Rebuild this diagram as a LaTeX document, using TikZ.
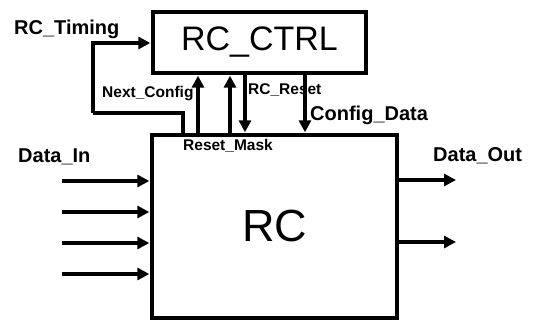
\documentclass[tikz,border=0pt]{standalone}
\usepackage{fontspec}
\setmainfont{Liberation Sans}
\usetikzlibrary{arrows.meta,positioning}
\tikzset{
  blk/.style   = {rectangle, draw=black, line width=3.4pt, inner sep=0pt},
  lbl/.style   = {inner sep=0pt, anchor=base west, font=\fontsize{20}{24}\selectfont\bfseries},
  slbl/.style  = {lbl, font=\fontsize{15.5}{18}\selectfont\bfseries},
  ar/.style    = {-{Triangle[length=12pt,width=12pt]}, draw=black, line width=3.4pt, shorten >=1pt},
  ln/.style    = {draw=black, line width=3.4pt}
}
\begin{document}
\begin{tikzpicture}[x=1pt, y=-1pt]
    \useasboundingbox (0,0) rectangle (540,320);
    % blocks
    \node[blk, minimum width=213pt, minimum height=61pt, font=\fontsize{34}{38}\selectfont]
      (ctrl) at (259.5,42.5) {RC\_CTRL};
    \node[blk, minimum width=245pt, minimum height=183pt, font=\fontsize{45}{50}\selectfont]
      (rc) at (274.5,226.5) {RC};
    % labels
    \node[lbl]  (timing) at (14,35)   {RC\_Timing};
    \node[slbl] (next)   at (102,98)  {Next\_Config};
    \node[slbl] (reset)  at (248,95)  {RC\_Reset};
    \node[lbl]  (cfg)    at (310,121) {Config\_Data};
    \node[slbl] (mask)   at (183,151) {Reset\_Mask};
    \node[lbl]  (din)    at (18,163)  {Data\_In};
    \node[lbl]  (dout)   at (433,162) {Data\_Out};
    % ports on the RC top
    \coordinate (p1) at (183,135);
    \coordinate (p2) at (198,135);
    \coordinate (p3) at (230,135);
    \coordinate (p4) at (245,73);
    \coordinate (p5) at (305,73);
    \coordinate (k1) at (93,113);
    % control signals
    \draw[ln] (p1) |- (k1);
    \draw[ar] (k1) |- (ctrl.west |- 0,43);
    \draw[ar] (p2) -- (p2 |- ctrl.south);
    \draw[ar] (p3) -- (p3 |- ctrl.south);
    \draw[ar] (p4) -- (p4 |- rc.north);
    \draw[ar] (p5) -- (p5 |- rc.north);
    % data inputs
    \coordinate (i1) at (62,181);
    \coordinate (i2) at (62,212);
    \coordinate (i3) at (62,243);
    \coordinate (i4) at (62,274);
    \draw[ar] (i1) -- (i1 -| rc.west);
    \draw[ar] (i2) -- (i2 -| rc.west);
    \draw[ar] (i3) -- (i3 -| rc.west);
    \draw[ar] (i4) -- (i4 -| rc.west);
    % data outputs
    \coordinate (o1) at (457,180);
    \coordinate (o2) at (457,242);
    \draw[ar] (o1 -| rc.east) -- (o1);
    \draw[ar] (o2 -| rc.east) -- (o2);
\end{tikzpicture}
\end{document}
